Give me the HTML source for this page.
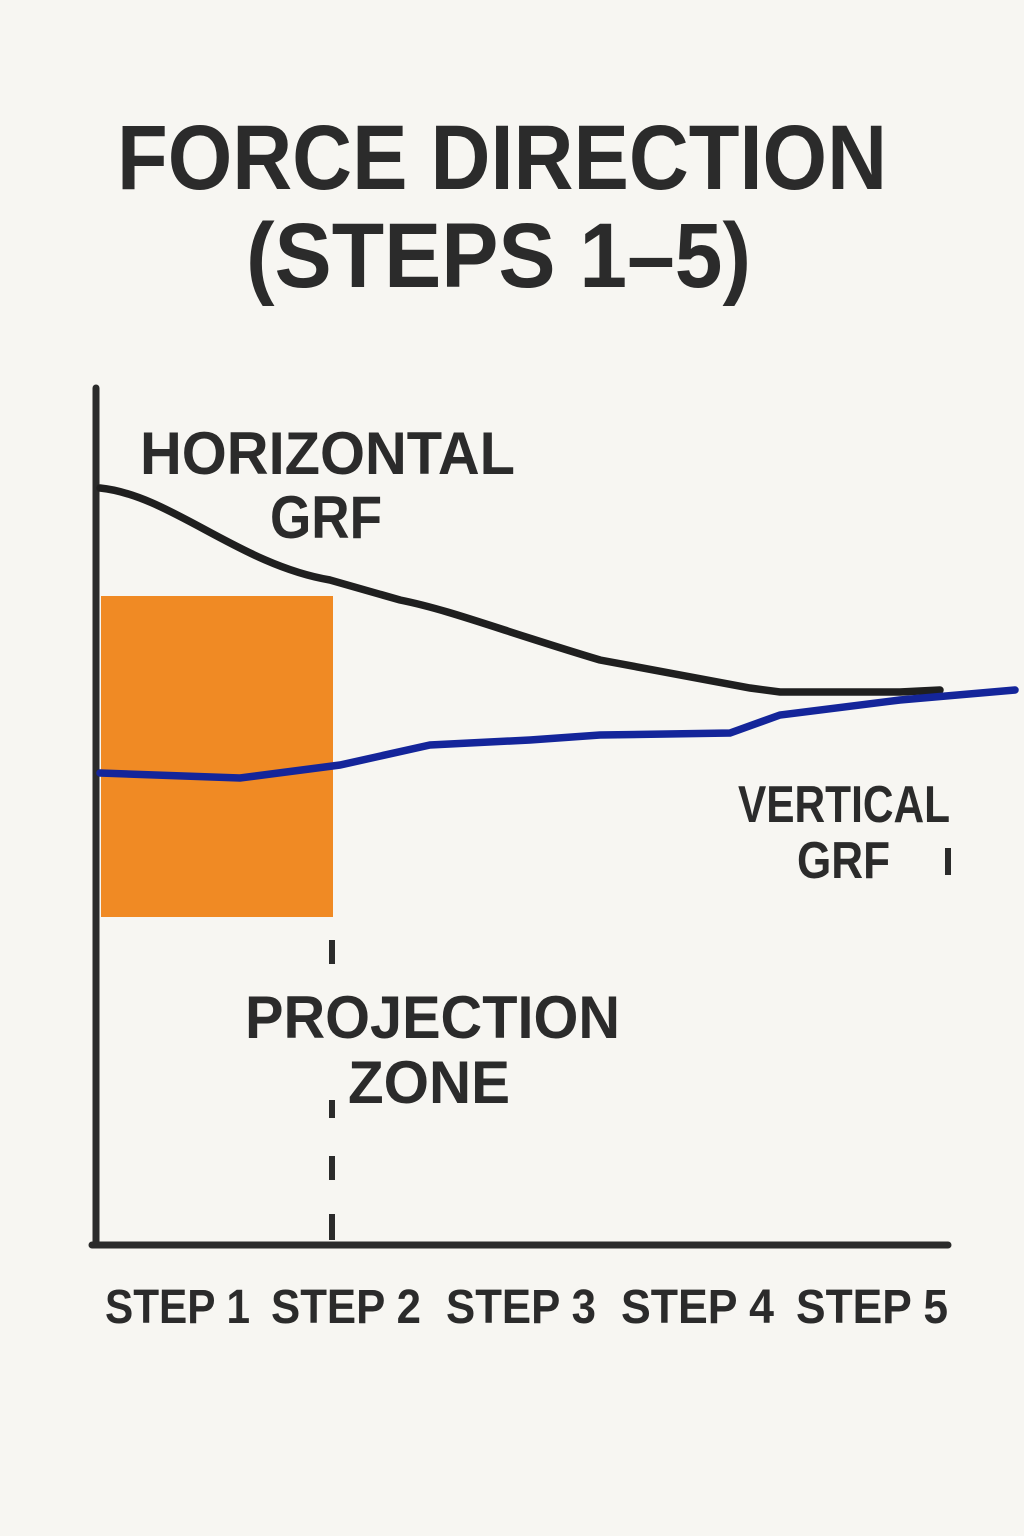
<!DOCTYPE html>
<html><head><meta charset="utf-8"><style>
html,body{margin:0;padding:0;background:#f7f6f2;}
svg{display:block}
text{font-family:"Liberation Sans",sans-serif;font-weight:bold;fill:#2b2b2b}
</style></head><body>
<svg width="1024" height="1536" viewBox="0 0 1024 1536">
<rect width="1024" height="1536" fill="#f7f6f2"/>
<text x="117" y="189" font-size="92" textLength="770" lengthAdjust="spacingAndGlyphs">FORCE DIRECTION</text>
<text x="246" y="287" font-size="92" textLength="505" lengthAdjust="spacingAndGlyphs">(STEPS 1–5)</text>
<rect x="101" y="596" width="232" height="321" fill="#f08a24"/>
<path d="M96 388 V1245 M92 1245 H948" stroke="#2b2b2b" stroke-width="7" fill="none" stroke-linecap="round"/>
<path d="M332 940 V964 M332 1100 V1118 M332 1156 V1180 M332 1214 V1240" stroke="#2b2b2b" stroke-width="6" fill="none"/>
<path d="M948 848 V875" stroke="#2b2b2b" stroke-width="6" fill="none"/>
<path d="M100 488 C170 495 240 565 330 580 L400 600 C450 610 500 630 600 660 L750 688 L780 692 L900 692 L940 690" stroke="#1f1f1f" stroke-width="7.5" fill="none" stroke-linecap="round"/>
<path d="M100 773 L240 778 L340 765 L430 745 L530 740 L600 735 L730 733 L780 715 L900 700 L1015 690" stroke="#14259a" stroke-width="7.5" fill="none" stroke-linecap="round"/>
<text x="140" y="474" font-size="60" textLength="375" lengthAdjust="spacingAndGlyphs">HORIZONTAL</text>
<text x="270" y="538" font-size="60" textLength="112" lengthAdjust="spacingAndGlyphs">GRF</text>
<text x="738" y="822" font-size="52" textLength="212" lengthAdjust="spacingAndGlyphs">VERTICAL</text>
<text x="797" y="878" font-size="52" textLength="93" lengthAdjust="spacingAndGlyphs">GRF</text>
<text x="245" y="1038" font-size="60" textLength="375" lengthAdjust="spacingAndGlyphs">PROJECTION</text>
<text x="348" y="1103" font-size="60" textLength="162" lengthAdjust="spacingAndGlyphs">ZONE</text>
<text x="105" y="1323" font-size="48" textLength="145" lengthAdjust="spacingAndGlyphs">STEP 1</text>
<text x="271" y="1323" font-size="48" textLength="150" lengthAdjust="spacingAndGlyphs">STEP 2</text>
<text x="446" y="1323" font-size="48" textLength="150" lengthAdjust="spacingAndGlyphs">STEP 3</text>
<text x="621" y="1323" font-size="48" textLength="153" lengthAdjust="spacingAndGlyphs">STEP 4</text>
<text x="796" y="1323" font-size="48" textLength="152" lengthAdjust="spacingAndGlyphs">STEP 5</text>
</svg>
</body></html>
